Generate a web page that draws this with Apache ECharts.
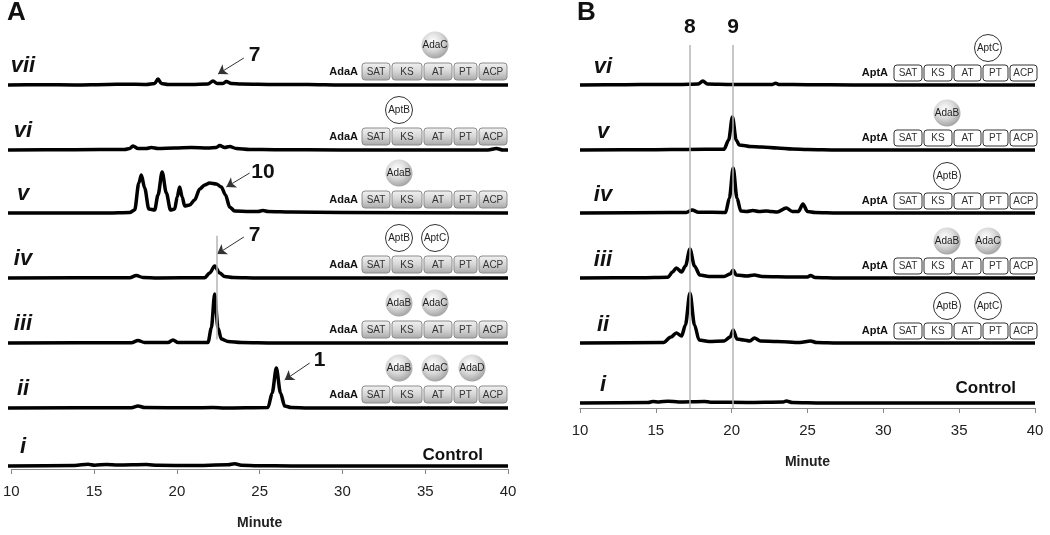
<!DOCTYPE html>
<html>
<head>
<meta charset="utf-8">
<script src="https://cdn.jsdelivr.net/npm/echarts@6/dist/echarts.min.js"></script>
<style>
  html, body { margin: 0; background: #fff; }
  #chart { width: 1050px; height: 535px; }
</style>
</head>
<body>
<div id="chart"></div>
<script>
// HPLC traces: [minute, detector response (relative units)]
// panel A, AdaA with partner enzymes
const a_vii = [[10,0],[12,0.3],[14,0],[16,0.5],[17,0.8],[18.3,0.5],[18.8,1.5],[19.0,6],[19.2,1.5],[19.6,0.5],[21,0.5],[22,1],[22.3,4],[22.55,1.5],[22.9,1.5],[23.1,3.5],[23.4,1.5],[24,1],[26,0.5],[28,0.5],[30,0],[40,0]];
const a_vi = [[10,0],[14,0.3],[17,0.6],[17.3,1.5],[17.5,4],[17.8,1.5],[18.3,1.5],[18.6,2.5],[19,1.5],[20,2],[21,2.5],[22,2],[22.5,2.5],[22.7,4.5],[23,2.5],[23.3,3.5],[23.7,1.5],[24.5,0.5],[26,0.3],[30,0],[38.8,0],[39.3,1.5],[39.7,0],[40,0]];
const a_v = [[10,0],[16,0],[17.3,0.5],[17.6,3],[17.85,30],[18.0,38],[18.2,25],[18.45,4],[18.8,3],[19.0,18],[19.25,41],[19.5,20],[19.75,3],[20.0,4],[20.15,16],[20.3,26],[20.45,16],[20.6,7],[20.9,8],[21.2,13],[21.5,24],[21.8,28],[22.1,30],[22.5,29],[22.8,26],[23.05,18],[23.3,6],[23.6,2],[24.5,1.5],[25.0,1.5],[25.3,2.5],[25.6,1.5],[27,1],[30,0.5],[40,0]];
const a_iv = [[10,0],[17.3,0.3],[17.7,2.5],[18.1,0.5],[19,0],[21.8,0.3],[22.1,5],[22.4,12],[22.7,5],[23.0,1.5],[23.5,0.5],[25,0],[40,0]];
const a_iii = [[10,0],[17.4,0.3],[17.8,2.5],[18.2,0.5],[19.6,0.5],[19.9,3],[20.2,0.5],[22.0,0.5],[22.2,15],[22.4,49],[22.6,15],[22.8,4],[23.2,1.5],[24,0.5],[26,0],[40,0]];
const a_ii = [[10,0],[17.4,0.3],[17.8,2],[18.2,0.5],[21,0.2],[22.3,0.5],[23,0],[25.6,0.5],[25.85,15],[26.1,40],[26.35,15],[26.6,2],[27,0.5],[28,0],[40,0]];
const a_i = [[10,0],[14,0.5],[14.8,1.8],[15.2,0.8],[15.9,1.6],[16.6,1],[18.3,1.5],[19,0.7],[21,0.5],[23.2,1.2],[23.6,2.2],[24,0.8],[25,0.3],[27,0],[40,0]];

// panel B, AptA with partner enzymes
const b_vi = [[10,0],[13,0.3],[15,0.5],[16.5,0.5],[17.8,1],[18.1,4],[18.4,1],[20,0.5],[22.7,0.6],[22.9,1.8],[23.1,0.5],[25,0.3],[28,0],[40,0]];
const b_v = [[10,0],[15,0.3],[17,0.5],[19.5,0.8],[19.8,10],[20.05,33],[20.3,10],[20.5,5],[20.8,4.5],[21.2,3.5],[22,3],[23,2],[24,1],[25,0.5],[27,0],[40,0]];
const b_iv = [[10,0],[16,0.5],[17.0,0.5],[17.4,3],[17.8,0.8],[19.6,0.5],[19.85,15],[20.1,45],[20.35,15],[20.6,2],[21.0,1.5],[21.4,2.5],[21.8,1.5],[22.3,2],[22.6,1.5],[23.0,1],[23.6,5],[24.0,1.5],[24.4,1.5],[24.7,9],[25.0,1.5],[25.5,0.5],[27,0],[40,0]];
const b_iii = [[10,0],[14,0.3],[15.8,0.8],[16.1,6],[16.35,10],[16.7,6],[16.95,12],[17.25,29],[17.55,12],[17.9,3],[18.5,1.5],[19.5,1.5],[19.9,4],[20.1,8],[20.3,3],[21,2],[21.5,3],[22,1.5],[24,1],[25.0,1],[25.2,2.5],[25.5,0.5],[27,0],[40,0]];
const b_ii = [[10,0],[15.5,0.5],[16.0,6],[16.35,10],[16.7,7],[16.95,18],[17.25,50],[17.55,18],[17.85,3],[18.5,1.5],[19.5,2],[19.9,6],[20.1,13],[20.35,4],[20.8,3],[21.2,2],[21.5,5],[21.9,2],[23,1.5],[24.5,0.5],[25.2,2],[25.6,0.5],[27,0],[40,0]];
const b_i = [[10,0],[14.5,0.5],[14.8,1.5],[15.2,1],[15.8,1.8],[16.5,1],[18.2,1.5],[18.6,0.8],[21,0.5],[23.4,1],[23.6,2],[24,0.5],[26,0],[40,0]];

const romanA = ['vii', 'vi', 'v', 'iv', 'iii', 'ii', 'i'];
const romanB = ['vi', 'v', 'iv', 'iii', 'ii', 'i'];
const domains = ['SAT', 'KS', 'AT', 'PT', 'ACP'];
// partner enzymes drawn above the domain row: [slot, name]
const partnersA = [[['AT','AdaC']], [['KS','AptB']], [['KS','AdaB']], [['KS','AptB'],['AT','AptC']], [['KS','AdaB'],['AT','AdaC']], [['KS','AdaB'],['AT','AdaC'],['PT','AdaD']], null];
const partnersB = [[['PT','AptC']], [['KS','AdaB']], [['KS','AptB']], [['KS','AdaB'],['PT','AdaC']], [['KS','AptB'],['PT','AptC']], null];
const peaksB = [['8', 17.25], ['9', 20.1]];
const peak7 = 22.4;

const tracesA = [a_vii, a_vi, a_v, a_iv, a_iii, a_ii, a_i];
const tracesB = [b_vi, b_v, b_iv, b_iii, b_ii, b_i];

// layout
const FONT = '"Liberation Sans", Arial, sans-serif';
const H = 60;
const TOP = 45;
const rowA = [85, 150, 213, 278, 343, 408, 466];
const rowB = [85, 150, 213, 278, 343, 403];
const panelA = { left: 8, right: 542, axisY: 474, numX: 23, numDy: 19, ctrlX: 483, ctrlDy: 11,
  boxX: 362, boxW: [28, 30, 28, 23, 28], boxTop: 22, boxH: 17, circDy: 40, slots: { KS: 399, AT: 435, PT: 472 },
  enzX: 358, enz: 'AdaA', shaded: true };
const panelB = { left: 580, right: 15, axisY: 408, numX: 603, numDy: 18, ctrlX: 1016, ctrlDy: 15,
  boxX: 894, boxW: [28, 28, 27, 25, 27], boxTop: 20, boxH: 16, circDy: 37, slots: { KS: 947, PT: 988 },
  enzX: 888, enz: 'AptA', shaded: false };

// annotated peaks in panel A: row index, label, label pos, arrow from -> to (minute, response)
const notesA = [
  [0, '7', [24.8, 30], [24.15, 27], [22.6, 11]],
  [2, '10', [25.3, 41], [24.5, 40], [23.1, 26]],
  [3, '7', [24.8, 43], [24.15, 41], [22.55, 24]],
  [5, '1', [28.7, 48], [28.1, 45], [26.6, 28]]
];

const grids = [], xAxes = [], yAxes = [], series = [], graphics = [];

function hiddenAxes() {
  xAxes.push({ gridIndex: grids.length - 1, type: 'value', min: 10, max: 40, show: false });
  yAxes.push({ gridIndex: grids.length - 1, type: 'value', min: 0, max: H, show: false });
}

function shownAxes() {
  xAxes.push({
    gridIndex: grids.length - 1, type: 'value', min: 10, max: 40, interval: 5,
    axisLine: { lineStyle: { color: '#888', width: 1 } },
    axisTick: { show: true, length: 5, lineStyle: { color: '#888' } },
    splitLine: { show: false },
    axisLabel: { fontSize: 15, color: '#222', margin: 15, fontFamily: FONT },
    name: 'Minute', nameLocation: 'middle', nameGap: 47,
    nameTextStyle: { fontSize: 14, fontWeight: 'bold', color: '#222', fontFamily: FONT }
  });
  yAxes.push({ gridIndex: grids.length - 1, type: 'value', min: 0, max: 1, show: false });
}

function circle(cx, cy, name, shaded) {
  const fill = shaded
    ? { type: 'radial', x: 0.42, y: 0.35, r: 0.7, colorStops: [
        { offset: 0, color: '#ffffff' }, { offset: 0.5, color: '#d9d9d9' }, { offset: 1, color: '#9c9c9c' }] }
    : '#fff';
  return [
    { type: 'circle', z: 10, shape: { cx: cx, cy: cy, r: 13.5 }, style: { fill: fill, stroke: shaded ? null : '#333', lineWidth: 1 } },
    { type: 'text', z: 11, style: { text: name, x: cx, y: cy, textAlign: 'center', textVerticalAlign: 'middle',
      font: '10px ' + FONT, fill: '#222' } }
  ];
}

function domainRow(p, base, partners) {
  const items = [];
  const top = base - p.boxTop;
  let x = p.boxX;
  domains.forEach((d, i) => {
    const w = p.boxW[i];
    const fill = p.shaded
      ? { type: 'linear', x: 0, y: 0, x2: 0, y2: 1, colorStops: [
          { offset: 0, color: '#f2f2f2' }, { offset: 0.5, color: '#d6d6d6' }, { offset: 1, color: '#a8a8a8' }] }
      : '#fff';
    items.push({ type: 'rect', z: 10, shape: { x: x, y: top, width: w, height: p.boxH, r: 3 },
      style: { fill: fill, stroke: p.shaded ? '#8c8c8c' : '#333', lineWidth: 1 } });
    items.push({ type: 'text', z: 11, style: { text: d, x: x + w / 2, y: top + p.boxH / 2 + 0.5, textAlign: 'center',
      textVerticalAlign: 'middle', font: '10px ' + FONT, fill: '#333' } });
    x += w + 2;
  });
  items.push({ type: 'text', z: 11, style: { text: p.enz, x: p.enzX, y: top + p.boxH / 2, textAlign: 'right',
    textVerticalAlign: 'middle', font: 'bold 11px ' + FONT, fill: '#111' } });
  partners.forEach(pr => {
    items.push(...circle(p.slots[pr[0]], base - p.circDy, pr[1], pr[1].startsWith('Ada')));
  });
  return items;
}

function buildPanel(p, rows, traces, roman, partners, letter, letterX) {
  rows.forEach((base, i) => {
    grids.push({ left: p.left, right: p.right, top: base - H, height: H });
    hiddenAxes();
    const k = grids.length - 1;
    series.push({
      type: 'line', xAxisIndex: k, yAxisIndex: k, data: traces[i], showSymbol: false,
      smooth: 0.3, smoothMonotone: 'x', clip: false, silent: true, z: 3,
      lineStyle: { color: '#000', width: 3.5, join: 'round' }
    });
    graphics.push({ type: 'text', style: { text: roman[i], x: p.numX, y: base - p.numDy, textAlign: 'center',
      textVerticalAlign: 'middle', font: 'italic bold 22px ' + FONT, fill: '#111' } });
    if (partners[i]) {
      graphics.push(...domainRow(p, base, partners[i]));
    } else {
      graphics.push({ type: 'text', style: { text: 'Control', x: p.ctrlX, y: base - p.ctrlDy, textAlign: 'right',
        textVerticalAlign: 'middle', font: 'bold 17px ' + FONT, fill: '#111' } });
    }
  });
  grids.push({ left: p.left, right: p.right, top: TOP, bottom: 535 - p.axisY });
  shownAxes();
  graphics.push({ type: 'text', style: { text: letter, x: letterX, y: 13, textAlign: 'left',
    textVerticalAlign: 'middle', font: 'bold 26px ' + FONT, fill: '#111' } });
  return grids.length - 1;
}

const overlayA = buildPanel(panelA, rowA, tracesA, romanA, partnersA, 'A', 7);
const firstB = grids.length;
const overlayB = buildPanel(panelB, rowB, tracesB, romanB, partnersB, 'B', 577);

// peak labels and arrows in panel A
notesA.forEach(n => {
  const s = series[n[0]];
  s.markPoint = s.markPoint || { symbol: 'circle', symbolSize: 1, silent: true, itemStyle: { color: 'rgba(0,0,0,0)' },
    label: { show: true, position: 'inside', formatter: '{b}', fontSize: 21, fontWeight: 'bold', color: '#111', fontFamily: FONT },
    data: [] };
  s.markPoint.data.push({ name: n[1], coord: n[2] });
  s.markLine = s.markLine || { silent: true, animation: false,
    lineStyle: { color: '#333', width: 1, type: 'solid' }, label: { show: false }, data: [] };
  s.markLine.data.push([{ coord: n[3], symbol: 'none' }, { coord: n[4], symbol: 'arrow', symbolSize: 9 }]);
});

// guide line through compound 7 (rows iv and iii of panel A), drawn on the panel overlay
const spanA = panelA.axisY - TOP;
const g7 = [(panelA.axisY - rowA[4]) / spanA, (panelA.axisY - rowA[3] + 40) / spanA];
series.push({ type: 'line', xAxisIndex: overlayA, yAxisIndex: overlayA, data: [[10, null]], silent: true, z: 1,
  markLine: { symbol: ['none', 'none'], silent: true, animation: false,
    lineStyle: { color: '#b5b5b5', width: 1.5, type: 'solid' }, label: { show: false },
    data: [[{ coord: [peak7, g7[0]] }, { coord: [peak7, g7[1]] }]] } });

// guide lines for compounds 8 and 9 in panel B
series.push({
  type: 'line', xAxisIndex: overlayB, yAxisIndex: overlayB, data: [[10, null]], silent: true, z: 1,
  markLine: { symbol: ['none', 'none'], silent: true, animation: false,
    lineStyle: { color: '#b5b5b5', width: 1.5, type: 'solid' },
    label: { show: true, position: 'end', formatter: '{b}', fontSize: 21, fontWeight: 'bold', color: '#111',
      fontFamily: FONT, distance: 7 },
    data: peaksB.map(p => ({ name: p[0], xAxis: p[1] })) }
});

const chart = echarts.init(document.getElementById('chart'));
chart.setOption({
  animation: false,
  backgroundColor: '#fff',
  grid: grids,
  xAxis: xAxes,
  yAxis: yAxes,
  series: series,
  graphic: graphics
});
</script>
</body>
</html>
